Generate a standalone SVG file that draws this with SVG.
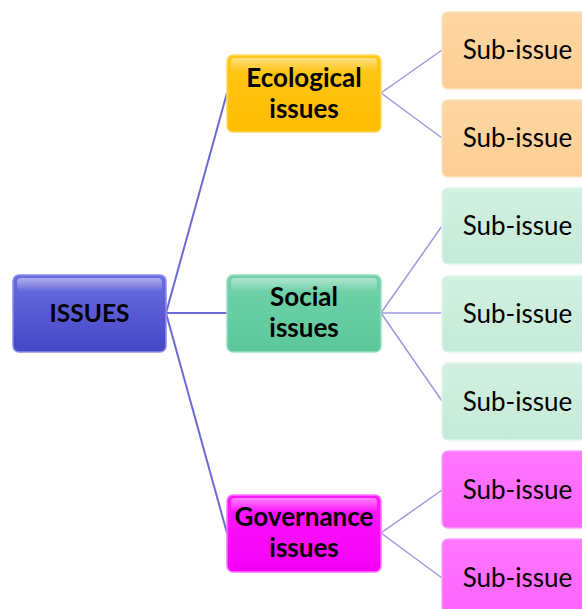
<svg xmlns="http://www.w3.org/2000/svg" width="582" height="609" viewBox="0 0 582 609">
  <defs>
    <linearGradient id="gBlue" x1="0" y1="0" x2="0" y2="1">
      <stop offset="0" stop-color="#6c6ce0"/>
      <stop offset="1" stop-color="#4646c6"/>
    </linearGradient>
    <linearGradient id="gGold" x1="0" y1="0" x2="0" y2="1">
      <stop offset="0" stop-color="#ffc81a"/>
      <stop offset="1" stop-color="#ffbc00"/>
    </linearGradient>
    <linearGradient id="gGreen" x1="0" y1="0" x2="0" y2="1">
      <stop offset="0" stop-color="#72d2aa"/>
      <stop offset="1" stop-color="#5cc89a"/>
    </linearGradient>
    <linearGradient id="gMagenta" x1="0" y1="0" x2="0" y2="1">
      <stop offset="0" stop-color="#ff1aff"/>
      <stop offset="1" stop-color="#f400f4"/>
    </linearGradient>
    <linearGradient id="gPeach" x1="0" y1="0" x2="0" y2="1">
      <stop offset="0" stop-color="#fed6a2"/>
      <stop offset="1" stop-color="#fccf94"/>
    </linearGradient>
    <linearGradient id="gMint" x1="0" y1="0" x2="0" y2="1">
      <stop offset="0" stop-color="#d2f0e0"/>
      <stop offset="1" stop-color="#c6ead8"/>
    </linearGradient>
    <linearGradient id="gPink" x1="0" y1="0" x2="0" y2="1">
      <stop offset="0" stop-color="#ff78ff"/>
      <stop offset="1" stop-color="#fd62fd"/>
    </linearGradient>
    <linearGradient id="gloss" x1="0" y1="0" x2="0" y2="1">
      <stop offset="0" stop-color="#ffffff" stop-opacity="0.45"/>
      <stop offset="1" stop-color="#ffffff" stop-opacity="0"/>
    </linearGradient>
  </defs>
  <style>
    .box { stroke-width: 1.5; }
    .gloss { fill: url(#gloss); }
    .main { font-family: Lato, "Open Sans", "Liberation Sans", sans-serif; font-weight: bold; font-size: 26px; fill: #000; text-anchor: middle; }
    .root { font-size: 24.5px; }
    .sub { font-family: Lato, "Open Sans", "Liberation Sans", sans-serif; font-size: 26px; fill: #000; text-anchor: middle; }
    .trunk { stroke: #6a6ad6; stroke-width: 2; fill: none; }
    .branch { stroke: #9a9ae0; stroke-width: 1.5; fill: none; }
  </style>

  <!-- connectors -->
  <g id="connectors">
    <path class="trunk" d="M166 313 L227 93 M166 313 L227 313 M166 313 L227 533"/>
    <path class="branch" d="M381 93 L442 50 M381 93 L442 138"/>
    <path class="branch" d="M381 313 L442 226 M381 313 L442 313 M381 313 L442 401"/>
    <path class="branch" d="M381 533 L442 490 M381 533 L442 578"/>
  </g>

  <!-- root -->
  <g id="issues">
    <rect class="box" x="13" y="275" width="153" height="77" rx="6" fill="url(#gBlue)" stroke="#8c8cee"/>
    <rect class="gloss" x="17" y="278" width="145" height="14" rx="4"/>
    <text class="main root" x="89.5" y="322">ISSUES</text>
  </g>

  <!-- categories -->
  <g id="ecological">
    <rect class="box" x="227" y="55" width="154" height="77" rx="6" fill="url(#gGold)" stroke="#ffd860"/>
    <rect class="gloss" x="231" y="58" width="146" height="14" rx="4"/>
    <text class="main" x="304" y="87">Ecological</text>
    <text class="main" x="304" y="118">issues</text>
  </g>
  <g id="social">
    <rect class="box" x="227" y="275" width="154" height="77" rx="6" fill="url(#gGreen)" stroke="#98dfc0"/>
    <rect class="gloss" x="231" y="278" width="146" height="14" rx="4"/>
    <text class="main" x="304" y="306">Social</text>
    <text class="main" x="304" y="337">issues</text>
  </g>
  <g id="governance">
    <rect class="box" x="227" y="495" width="154" height="77" rx="6" fill="url(#gMagenta)" stroke="#ff70ff"/>
    <rect class="gloss" x="231" y="498" width="146" height="14" rx="4"/>
    <text class="main" x="304" y="526">Governance</text>
    <text class="main" x="304" y="557">issues</text>
  </g>

  <!-- sub-issues -->
  <g id="eco-sub-1">
    <rect class="box" x="442" y="12" width="160" height="77" rx="6" fill="url(#gPeach)" stroke="#fee2bc"/>
    <text class="sub" x="517.5" y="59">Sub-issue</text>
  </g>
  <g id="eco-sub-2">
    <rect class="box" x="442" y="100" width="160" height="77" rx="6" fill="url(#gPeach)" stroke="#fee2bc"/>
    <text class="sub" x="517.5" y="147">Sub-issue</text>
  </g>
  <g id="soc-sub-1">
    <rect class="box" x="442" y="188" width="160" height="76" rx="6" fill="url(#gMint)" stroke="#e0f6ea"/>
    <text class="sub" x="517.5" y="235">Sub-issue</text>
  </g>
  <g id="soc-sub-2">
    <rect class="box" x="442" y="276" width="160" height="76" rx="6" fill="url(#gMint)" stroke="#e0f6ea"/>
    <text class="sub" x="517.5" y="323">Sub-issue</text>
  </g>
  <g id="soc-sub-3">
    <rect class="box" x="442" y="363" width="160" height="77" rx="6" fill="url(#gMint)" stroke="#e0f6ea"/>
    <text class="sub" x="517.5" y="411">Sub-issue</text>
  </g>
  <g id="gov-sub-1">
    <rect class="box" x="442" y="451" width="160" height="77" rx="6" fill="url(#gPink)" stroke="#ff9cff"/>
    <text class="sub" x="517.5" y="499">Sub-issue</text>
  </g>
  <g id="gov-sub-2">
    <rect class="box" x="442" y="539" width="160" height="77" rx="6" fill="url(#gPink)" stroke="#ff9cff"/>
    <text class="sub" x="517.5" y="587">Sub-issue</text>
  </g>
</svg>
